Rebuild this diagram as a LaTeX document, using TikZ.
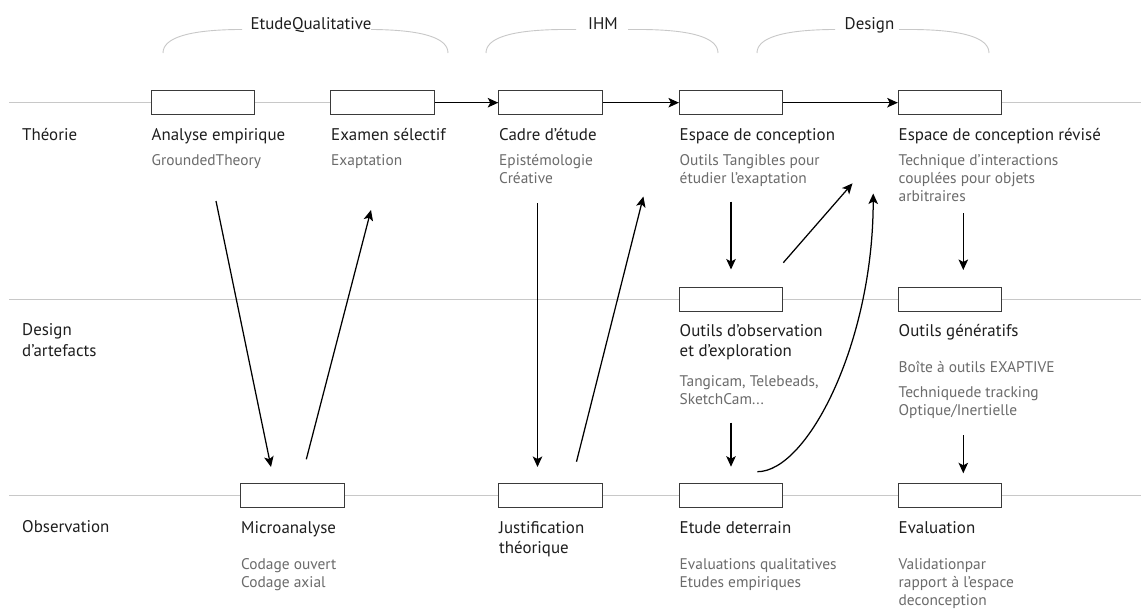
\documentclass[tikz,border=0pt]{standalone}
\usepackage{fontspec}
\setmainfont{PT Sans}
\usetikzlibrary{arrows.meta}
\definecolor{linegray}{HTML}{C8C8C8}
\definecolor{boxgray}{HTML}{3A3A3A}
\definecolor{subgray}{HTML}{6B6B6B}
\definecolor{ink}{HTML}{1E1E1E}
\newcommand{\ttlfont}{\fontsize{16.9}{19}\selectfont}
\newcommand{\subfont}{\fontsize{15.4}{18}\selectfont}
\tikzset{
  hline/.style={draw=linegray, line width=1.3pt},
  brace/.style={draw=linegray, line width=0.9pt},
  stepbox/.style={draw=boxgray, fill=white, line width=1pt, minimum width=103.5pt, minimum height=24.5pt, inner sep=0pt},
  ttl/.style={font=\ttlfont, text=ink, anchor=base west, inner sep=0pt},
  grp/.style={font=\ttlfont, text=ink, anchor=base, inner sep=0pt},
  sub/.style={font=\subfont, text=subgray, anchor=base west, inner sep=0pt},
  arr/.style={draw=black, line width=1.25pt, -{Stealth[length=10.5pt, width=9.5pt, inset=2.5pt]}},
}
\begin{document}
\begin{tikzpicture}[x=1pt, y=-1pt]
\fill[white] (0,0) rectangle (1141,608);
\useasboundingbox (0,0) rectangle (1141,608);

% group braces
\node[grp] (gEQ) at (311,29.5) {EtudeQualitative};
\node[grp] (gIHM) at (603,29.5) {IHM};
\node[grp] (gDes) at (869.5,29.5) {Design};
\draw[brace] (163,53) .. controls (163,38) and (188,30) .. (238,29.5) -- (242,29.5);
\draw[brace] (371,29.5) -- (373,29.5) .. controls (423,30) and (448,38) .. (448,53);
\draw[brace] (486,53) .. controls (486,38) and (511,30) .. (561,29.5) -- (576,29.5);
\draw[brace] (628,29.5) -- (643,29.5) .. controls (693,30) and (718,38) .. (718,53);
\draw[brace] (757,53) .. controls (757,38) and (782,30) .. (832,29.5) -- (835,29.5);
\draw[brace] (899,29.5) -- (914,29.5) .. controls (964,30) and (989,38) .. (989,53);

% swimlane lines
\coordinate (t0) at (9,102.7);  \coordinate (t1) at (1141,102.7);
\coordinate (d0) at (9,299.3);  \coordinate (d1) at (1141,299.3);
\coordinate (o0) at (9,495.7);  \coordinate (o1) at (1141,495.7);
\draw[hline] (t0) -- (t1);
\draw[hline] (d0) -- (d1);
\draw[hline] (o0) -- (o1);

% boxes
\node[stepbox] (A1) at (202.8,102.7) {};
\node[stepbox] (B1) at (382.5,102.7) {};
\node[stepbox] (C1) at (550.5,102.7) {};
\node[stepbox] (D1) at (731.2,102.7) {};
\node[stepbox] (E1) at (950,102.7) {};
\node[stepbox] (D2) at (731.2,299.4) {};
\node[stepbox] (E2) at (950,299.4) {};
\node[stepbox] (M3) at (292.5,495.5) {};
\node[stepbox] (C3) at (550.5,495.5) {};
\node[stepbox] (D3) at (731.2,495.5) {};
\node[stepbox] (E3) at (950,495.5) {};

% row labels
\node[ttl] (lT) at (22,140) {Théorie};
\node[ttl] (lD1) at (22,335.5) {Design};
\node[ttl] (lD2) at (22,356.2) {d’artefacts};
\node[ttl] (lO) at (22,532.7) {Observation};

% row 1 texts
\node[ttl] (tA1) at (151.5,140) {Analyse empirique};
\node[sub] (sA1) at (151.5,165) {GroundedTheory};
\node[ttl] (tB1) at (331,140) {Examen sélectif};
\node[sub] (sB1) at (331,165) {Exaptation};
\node[ttl] (tC1) at (499,140) {Cadre d’étude};
\node[sub] (sC1a) at (499,165) {Epistémologie};
\node[sub] (sC1b) at (499,183) {Créative};
\node[ttl] (tD1) at (679.5,140) {Espace de conception};
\node[sub] (sD1a) at (679.5,165) {Outils Tangibles pour};
\node[sub] (sD1b) at (679.5,183) {étudier l’exaptation};
\node[ttl] (tE1) at (898.5,140) {Espace de conception révisé};
\node[sub] (sE1a) at (898.5,165) {Technique d’interactions};
\node[sub] (sE1b) at (898.5,183) {couplées pour objets};
\node[sub] (sE1c) at (898.5,201) {arbitraires};

% row 2 texts
\node[ttl] (tD2a) at (679.5,336) {Outils d’observation};
\node[ttl] (tD2b) at (679.5,356.7) {et d’exploration};
\node[sub] (sD2a) at (679.5,386) {Tangicam, Telebeads,};
\node[sub] (sD2b) at (679.5,404) {SketchCam...};
\node[ttl] (tE2) at (898.5,336) {Outils génératifs};
\node[sub] (sE2a) at (898.5,372.7) {Boîte à outils EXAPTIVE};
\node[sub] (sE2b) at (898.5,397.7) {Techniquede tracking};
\node[sub] (sE2c) at (898.5,415.7) {Optique/Inertielle};

% row 3 texts
\node[ttl] (tM3) at (241,533) {Microanalyse};
\node[sub] (sM3a) at (241,569.5) {Codage ouvert};
\node[sub] (sM3b) at (241,587.5) {Codage axial};
\node[ttl] (tC3a) at (499,533) {Justification};
\node[ttl] (tC3b) at (499,553) {théorique};
\node[ttl] (tD3) at (679.5,533) {Etude deterrain};
\node[sub] (sD3a) at (679.5,569.5) {Evaluations qualitatives};
\node[sub] (sD3b) at (679.5,587.5) {Etudes empiriques};
\node[ttl] (tE3) at (898.5,533) {Evaluation};
\node[sub] (sE3a) at (898.5,569.5) {Validationpar};
\node[sub] (sE3b) at (898.5,587.5) {rapport à l’espace};
\node[sub] (sE3c) at (898.5,605.5) {deconception};

% horizontal arrows on theory line
\draw[arr] (B1.east) -- (C1.west);
\draw[arr] (C1.east) -- (D1.west);
\draw[arr] (D1.east) -- (E1.west);

% free connector ends
\coordinate (a1s) at (216,201);   \coordinate (a1e) at (271,467);
\coordinate (a2s) at (306.3,459.3); \coordinate (a2e) at (371,210);
\coordinate (a3s) at (537.5,203); \coordinate (a3e) at (537.5,467);
\coordinate (a4s) at (576.5,461.7); \coordinate (a4e) at (643.4,196.5);
\coordinate (a5s) at (731,201.7); \coordinate (a5e) at (731,269.5);
\coordinate (a6s) at (783.3,262.7); \coordinate (a6e) at (852.5,183.3);
\coordinate (a7s) at (757.4,471.7); \coordinate (a7e) at (873.2,193.5);
\coordinate (a8s) at (731,422.7); \coordinate (a8e) at (731,466.7);
\coordinate (a9s) at (963.3,213.3); \coordinate (a9e) at (963.3,270);
\coordinate (a10s) at (963.3,435); \coordinate (a10e) at (963.3,473.3);

\draw[arr] (a1s) -- (a1e);
\draw[arr] (a2s) -- (a2e);
\draw[arr] (a3s) -- (a3e);
\draw[arr] (a4s) -- (a4e);
\draw[arr] (a5s) -- (a5e);
\draw[arr] (a6s) -- (a6e);
\draw[arr] (a7s) .. controls (807.4,471.7) and (873.2,343) .. (a7e);
\draw[arr] (a8s) -- (a8e);
\draw[arr] (a9s) -- (a9e);
\draw[arr] (a10s) -- (a10e);
\end{tikzpicture}
\end{document}
